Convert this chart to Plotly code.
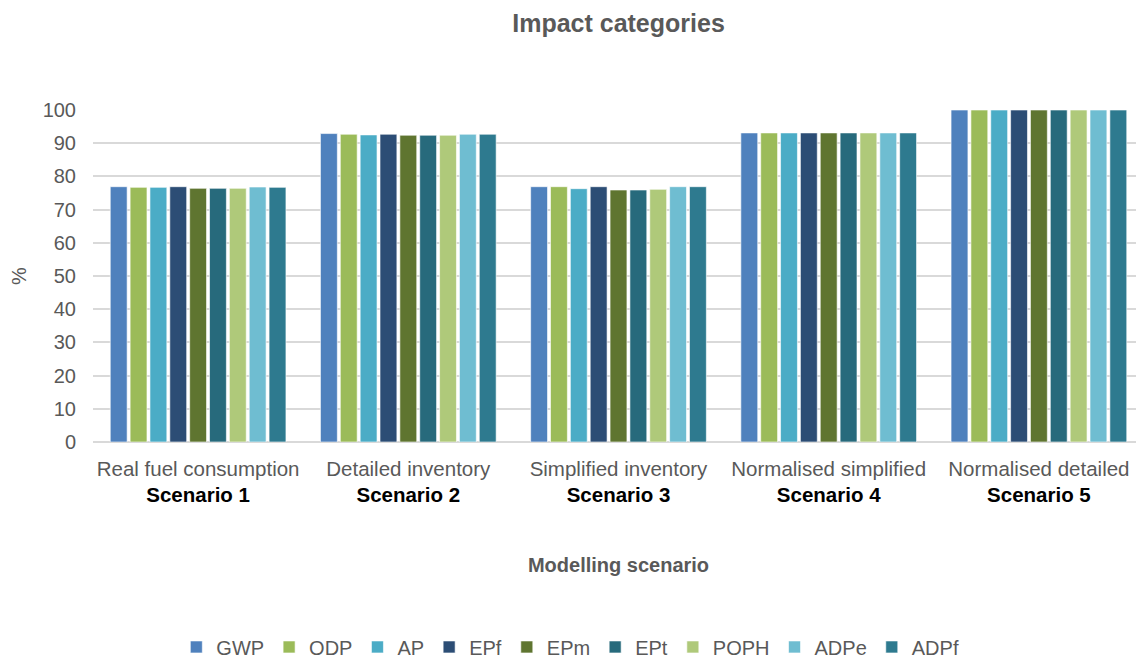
import plotly.graph_objects as go

descriptions = ["Real fuel consumption", "Detailed inventory", "Simplified inventory",
                "Normalised simplified", "Normalised detailed"]
scenarios = ["Scenario 1", "Scenario 2", "Scenario 3", "Scenario 4", "Scenario 5"]

series_names = ["GWP", "ODP", "AP", "EPf", "EPm", "EPt", "POPH", "ADPe", "ADPf"]
colors = ["#4F81BD", "#9BBB59", "#4BACC6", "#2C4D75", "#5F7530",
          "#276A7C", "#AFC97A", "#6FBDD1", "#2E7A8F"]

GWP = [76.9, 92.9, 76.9, 93.1, 100]
ODP = [76.7, 92.7, 76.9, 93.1, 100]
AP = [76.7, 92.5, 76.3, 93.1, 100]
EPf = [76.9, 92.7, 76.9, 93.1, 100]
EPm = [76.4, 92.4, 75.9, 93.1, 100]
EPt = [76.4, 92.4, 75.9, 93.1, 100]
POPH = [76.4, 92.4, 76.1, 93.1, 100]
ADPe = [76.8, 92.7, 76.9, 93.1, 100]
ADPf = [76.7, 92.7, 76.9, 93.1, 100]
values = [GWP, ODP, AP, EPf, EPm, EPt, POPH, ADPe, ADPf]

ticktext = [f"{d}<br><span style='color:#000000'><b>{s}</b></span>"
            for d, s in zip(descriptions, scenarios)]

fig = go.Figure()
for name, col, vals in zip(series_names, colors, values):
    fig.add_trace(go.Bar(
        name=name, x=scenarios, y=vals, marker_color=col,
        marker_line_color="rgba(255,255,255,0.6)", marker_line_width=1,
    ))

font_family = "Liberation Sans, Arial, sans-serif"
fig.update_layout(
    width=1136, height=652,
    barmode="group", bargap=0.15, bargroupgap=0.15,
    plot_bgcolor="white", paper_bgcolor="white",
    font=dict(family=font_family, size=20, color="#595959"),
    title=dict(text="<b>Impact categories</b>", xref="paper", x=0.5, xanchor="center",
               yref="container", y=0.99, yanchor="top",
               font=dict(size=25, color="#595959")),
    margin=dict(l=85, r=0, t=102, b=218),
    legend=dict(orientation="h", xref="container", x=0.495, xanchor="center",
                yref="container", y=0.02, yanchor="middle",
                font=dict(size=20, color="#595959"),
                itemwidth=30, tracegroupgap=0),
    xaxis=dict(tickmode="array", tickvals=scenarios, ticktext=ticktext,
               showgrid=False, showline=False, ticks="", ticklabelstandoff=12,
               tickfont=dict(size=20.5), tickangle=0,
               title=dict(text="<b>Modelling scenario</b>", standoff=52,
                          font=dict(size=20, color="#595959"))),
    yaxis=dict(range=[0, 100], dtick=10, showgrid=True, gridcolor="#D9D9D9",
               gridwidth=1.5, zeroline=True, zerolinecolor="#D9D9D9", zerolinewidth=1.5,
               ticks="outside", ticklen=12, tickcolor="rgba(0,0,0,0)",
               title=dict(text="%", standoff=22, font=dict(size=20, color="#595959"))),
)

fig.write_html("out.html")
